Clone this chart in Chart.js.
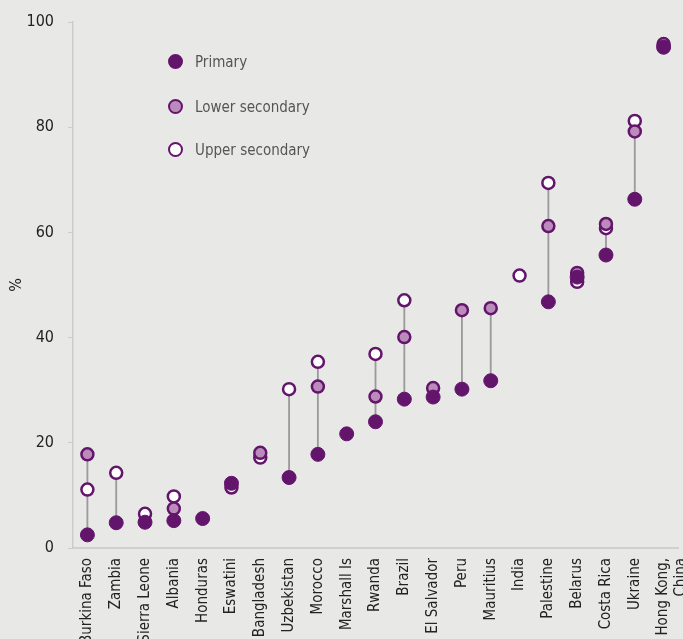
<!DOCTYPE html>
<html>
<head>
<meta charset="utf-8">
<script src="https://cdn.jsdelivr.net/npm/chart.js@4.4.1/dist/chart.umd.min.js"></script>
<style>
  html, body { margin: 0; padding: 0; background: #e8e9e7; }
  #wrap { position: relative; width: 683px; height: 639px; }
  #chart { position: absolute; left: 0; top: 0; }
  .legend { position: absolute; left: 168px; top: 0; font-family: "DejaVu Sans Condensed", sans-serif; font-size: 15px; color: #555; }
  .legend div { position: absolute; white-space: nowrap; line-height: 16px; }
  .legend span.dot { position: absolute; left: 0; top: 0; width: 11px; height: 11px; border-radius: 50%; border: 2.5px solid #63146b; }
  .legend span.txt { position: absolute; left: 27px; top: 0; }
</style>
</head>
<body>
<div id="wrap">
  <canvas id="chart" width="683" height="639"></canvas>
  <div class="legend">
    <div style="top:54px"><span class="dot" style="background:#63146b"></span><span class="txt">Primary</span></div>
    <div style="top:99px"><span class="dot" style="background:#bb8bbb"></span><span class="txt">Lower secondary</span></div>
    <div style="top:142px"><span class="dot" style="background:#ffffff"></span><span class="txt">Upper secondary</span></div>
  </div>
</div>
<script>
const countries = ["Burkina Faso", "Zambia", "Sierra Leone", "Albania", "Honduras", "Eswatini", "Bangladesh",
  "Uzbekistan", "Morocco", "Marshall Is", "Rwanda", "Brazil", "El Salvador", "Peru", "Mauritius", "India",
  "Palestine", "Belarus", "Costa Rica", "Ukraine", ["Hong Kong,", "China"]]

const primary = [2.5, 4.8, 4.9, 5.2, 5.6, 12.3, null, 13.4, 17.8, 21.7, 24.0, 28.3, 28.7, 30.2, 31.8, null,
  46.8, 51.5, 55.7, 66.3, 95.2]
const lowerSecondary = [17.8, null, null, 7.5, null, null, 18.1, null, 30.7, null, 28.8, 40.1, 30.4, 45.2, 45.6, null,
  61.2, 52.3, 61.6, 79.2, 95.8]
const upperSecondary = [11.1, 14.3, 6.5, 9.8, null, 11.5, 17.2, 30.2, 35.4, null, 36.9, 47.1, null, null, null, 51.8,
  69.4, 50.6, 60.8, 81.2, null]

const yTicks = [0, 20, 40, 60, 80, 100]

const purple = "#63146b"
const lilac = "#bb8bbb"
const fontFamily = '"DejaVu Sans Condensed", sans-serif'

// gap range per country, drawn as a thin floating bar
const ranges = countries.map((c, i) => {
  const vals = [primary[i], lowerSecondary[i], upperSecondary[i]].filter(v => v !== null)
  if (vals.length < 2) return null
  return [Math.min(...vals), Math.max(...vals)]
})

const pointSet = (label, data, fill, radius, border, order) => ({
  type: "line",
  label,
  data,
  showLine: false,
  pointRadius: radius,
  pointHoverRadius: radius,
  pointBackgroundColor: fill,
  pointBorderColor: purple,
  pointBorderWidth: border,
  order,
})

new Chart(document.getElementById("chart"), {
  type: "bar",
  data: {
    labels: countries,
    datasets: [
      {
        label: "range",
        data: ranges,
        backgroundColor: "#9b9b9b",
        barThickness: 1.2,
        order: 10,
      },
      pointSet("Upper secondary", upperSecondary, "#ffffff", 6, 2.5, 3),
      pointSet("Lower secondary", lowerSecondary, lilac, 6, 2.5, 2),
      pointSet("Primary", primary, purple, 7, 1, 1),
    ],
  },
  options: {
    responsive: false,
    animation: false,
    layout: { autoPadding: false, padding: { top: 22, right: 5, bottom: 0, left: 0 } },
    plugins: {
      legend: { display: false },
      tooltip: { enabled: false },
    },
    scales: {
      x: {
        grid: { display: false, drawTicks: false },
        border: { color: "#d0d0d0", width: 2 },
        ticks: {
          color: "#222",
          font: { family: fontFamily, size: 15 },
          minRotation: 90,
          maxRotation: 90,
          autoSkip: false,
          padding: 10,
        },
        afterFit: (scale) => {
          scale.height = 91
          scale.paddingLeft = 0
          scale.paddingRight = 0
        },
      },
      y: {
        min: 0,
        max: 100,
        afterBuildTicks: (scale) => { scale.ticks = yTicks.map(v => ({ value: v })) },
        grid: { drawOnChartArea: false, tickLength: 5, color: "#cccccc" },
        border: { color: "#cccccc", width: 1.5 },
        ticks: {
          color: "#222",
          font: { family: fontFamily, size: 16 },
          padding: 14,
        },
        title: {
          display: true,
          text: "%",
          color: "#222",
          font: { family: fontFamily, size: 16 },
          padding: { top: 7, bottom: 0 },
        },
        afterFit: (scale) => {
          scale.width = 73
          scale.paddingTop = 0
          scale.paddingBottom = 0
        },
      },
    },
  },
})
</script>
</body>
</html>
